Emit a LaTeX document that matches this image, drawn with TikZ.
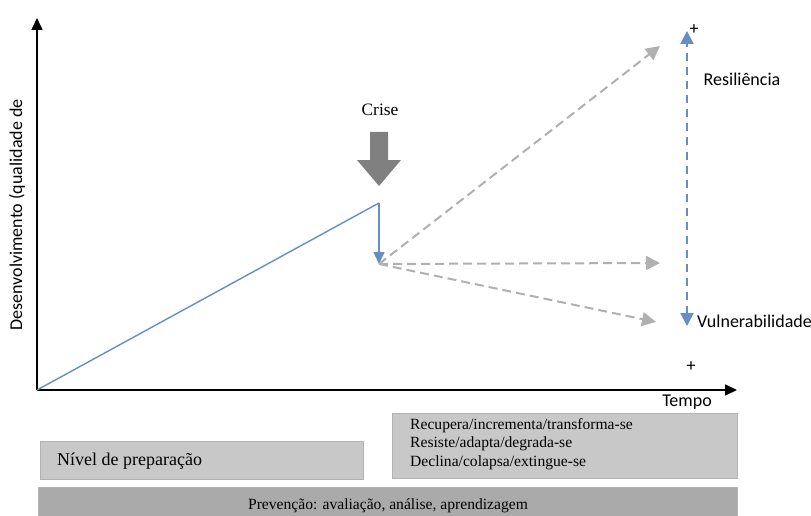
\documentclass[tikz,border=0pt]{standalone}
\usepackage{fontspec}
\setmainfont{Liberation Serif}
\newfontfamily\calibri{Carlito}
\usetikzlibrary{arrows.meta,positioning}
\definecolor{curveblue}{RGB}{100,142,196}
\definecolor{pathgray}{RGB}{176,176,176}
\definecolor{crisegray}{RGB}{128,128,128}
\definecolor{boxlight}{RGB}{200,200,200}
\definecolor{boxdark}{RGB}{170,170,170}

\begin{document}
\begin{tikzpicture}[x=1pt,y=-1pt,
    axis/.style={line width=1.6pt,-{Triangle[length=12pt,width=11pt]}},
    curve/.style={curveblue,line width=1.4pt},
    scenario/.style={pathgray,line width=2pt,dash pattern=on 9pt off 5pt,-{Triangle[length=14pt,width=14pt]}},
    gauge/.style={curveblue,line width=2pt,dash pattern=on 8pt off 6pt,{Triangle[length=13pt,width=13pt]}-{Triangle[length=13pt,width=13pt]}},
    panel/.style={draw=gray!60,line width=0.6pt,anchor=north west,inner sep=0pt},
    sanslabel/.style={font=\calibri\fontsize{18}{20}\selectfont},
    seriflabel/.style={font=\fontsize{15.6}{18.6}\selectfont}]
  \useasboundingbox (0,0) rectangle (811,516);

  % axes
  \coordinate (O) at (37,390);
  \coordinate (ytop) at (37,18);
  \coordinate (xend) at (737,390);
  \draw[axis] (O) -- (ytop);
  \draw[axis] (O) -- (xend);
  \node[sanslabel,rotate=90] (ylabel) at (17,215) {Desenvolvimento (qualidade de};
  \node[sanslabel] (tempo) at (687,402) {Tempo};

  % development curve and drop
  \coordinate (peak) at (379,203);
  \coordinate (drop) at (379,264);
  \draw[curve] (O) -- (peak);
  \draw[curve,-{Triangle[length=12pt,width=11pt]}] (peak) -- (drop);

  % crisis
  \node[seriflabel,font=\fontsize{17.4}{20}\selectfont] (crise) at (380,110) {Crise};
  \fill[crisegray] (370,132) -- (388,132) -- (388,160) -- (401,160) -- (379,186)
    -- (357,160) -- (370,160) -- cycle;

  % scenarios after the crisis
  \coordinate (up) at (660,46);
  \coordinate (flat) at (660,263);
  \coordinate (down) at (656,322);
  \path[scenario]
    (drop) edge (up)
           edge (flat)
           edge (down);

  % resilience / vulnerability scale
  \coordinate (rtop) at (687,31);
  \coordinate (rbot) at (687,326);
  \draw[gauge] (rbot) -- (rtop);
  \node[sanslabel] (plustop) at (694,30) {+};
  \node[sanslabel] (plusbot) at (691,367) {+};
  \node[sanslabel] (resil) at (742,79) {Resiliência};
  \node[sanslabel,anchor=west,inner sep=0pt] (vulner) at (697,321) {Vulnerabilidade};

  % panels
  \node[panel,fill=boxlight,minimum width=345pt,minimum height=65pt] (outcomes) at (392,413) {};
  \node[seriflabel,anchor=north west,align=left,inner sep=0pt] (outtext) at (410,418)
    {Recupera/incrementa/transforma-se\\Resiste/adapta/degrada-se\\Declina/colapsa/extingue-se};
  \node[panel,fill=boxlight,minimum width=323pt,minimum height=38pt] (prep) at (40,441) {};
  \node[seriflabel,font=\fontsize{18}{20}\selectfont,anchor=west,inner sep=0pt] (preptext) at (57,461) {Nível de preparação};
  \node[panel,fill=boxdark,minimum width=699pt,minimum height=40pt] (prev) at (38,487) {};
  \node[seriflabel] (prevtext) at (388,506) {Prevenção: avaliação, análise, aprendizagem};
\end{tikzpicture}
\end{document}
